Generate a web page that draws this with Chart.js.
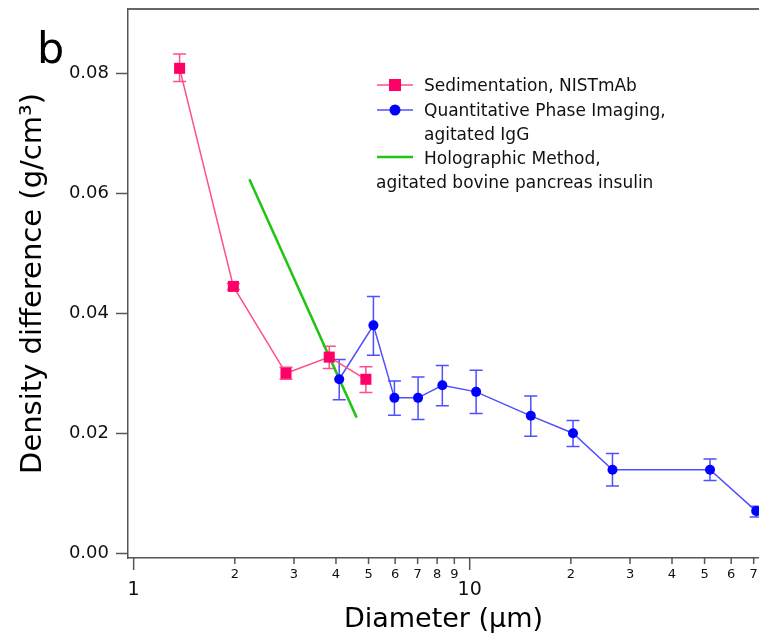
<!DOCTYPE html>
<html>
<head>
<meta charset="utf-8">
<script src="https://cdn.jsdelivr.net/npm/chart.js@4.4.1/dist/chart.umd.min.js"></script>
<style>
  body { margin: 0; background: #fff; }
  canvas { display: block; }
</style>
</head>
<body>
<canvas id="myChart" width="759" height="641"></canvas>
<script>
// Sedimentation, NISTmAb
var sedX = [1.37, 1.98, 2.84, 3.82, 4.91];
var sedY = [0.0809, 0.0445, 0.0300, 0.0327, 0.0290];
var sedLo = [0.0787, 0.0440, 0.0290, 0.0308, 0.0268];
var sedHi = [0.0833, 0.0450, 0.0310, 0.0345, 0.0311];

// Quantitative Phase Imaging, agitated IgG
var qpiX = [4.09, 5.17, 5.97, 7.02, 8.29, 10.45, 15.2, 20.3, 26.6, 51.9, 71.2];
var qpiY = [0.0290, 0.0380, 0.0259, 0.0259, 0.0280, 0.0269, 0.0229, 0.0200, 0.0139, 0.0139, 0.0070];
var qpiLo = [0.0256, 0.0330, 0.0230, 0.0223, 0.0246, 0.0233, 0.0195, 0.0178, 0.0112, 0.0121, 0.0060];
var qpiHi = [0.0323, 0.0428, 0.0287, 0.0294, 0.0313, 0.0305, 0.0262, 0.0221, 0.0166, 0.0157, 0.0078];

// Holographic Method, agitated bovine pancreas insulin
var holoX = [2.21, 4.61];
var holoY = [0.0624, 0.0226];

var xTickValues = [1, 2, 3, 4, 5, 6, 7, 8, 9, 10, 20, 30, 40, 50, 60, 70];
var xTickLabels = ['1', '2', '3', '4', '5', '6', '7', '8', '9', '10', '2', '3', '4', '5', '6', '7'];
var xMajorTicks = [1, 10];
var yTickValues = [0, 0.02, 0.04, 0.06, 0.08];
var yTickLabels = ['0.00', '0.02', '0.04', '0.06', '0.08'];

var FONT = "'DejaVu Sans', 'Liberation Sans', sans-serif";
var PINK = '#ff0066', PINK_LINE = '#ff4f8a';
var BLUE = '#0000ff', BLUE_LINE = '#4f4fff';
var GREEN = '#22c414';

function toPoints(xs, ys) {
    return xs.map((x, i) => ({ x: x, y: ys[i] }));
}

// error bars drawn through the chart scales
const errorBars = {
    id: 'errorBars',
    beforeDatasetsDraw(chart) {
        const ctx = chart.ctx;
        const xs = chart.scales.x, ys = chart.scales.y;
        chart.data.datasets.forEach(ds => {
            if (!ds.errLo) return;
            ctx.save();
            ctx.strokeStyle = ds.errColor;
            ctx.lineWidth = 1.5;
            ds.data.forEach((p, i) => {
                const px = xs.getPixelForValue(p.x);
                const lo = ys.getPixelForValue(ds.errLo[i]);
                const hi = ys.getPixelForValue(ds.errHi[i]);
                ctx.beginPath();
                ctx.moveTo(px, lo); ctx.lineTo(px, hi);
                ctx.moveTo(px - 6.5, lo); ctx.lineTo(px + 6.5, lo);
                ctx.moveTo(px - 6.5, hi); ctx.lineTo(px + 6.5, hi);
                ctx.stroke();
            });
            ctx.restore();
        });
    }
};

// frame, x tick marks, panel letter and legend
const decorations = {
    id: 'decorations',
    afterDraw(chart) {
        const ctx = chart.ctx;
        const area = chart.chartArea;
        const xs = chart.scales.x;
        ctx.save();
        ctx.strokeStyle = '#666';
        ctx.lineWidth = 2;
        ctx.beginPath();
        ctx.moveTo(area.left, area.top);
        ctx.lineTo(chart.width, area.top);
        ctx.stroke();

        ctx.strokeStyle = '#555';
        ctx.lineWidth = 1.5;
        xTickValues.forEach(v => {
            const px = xs.getPixelForValue(v);
            const len = xMajorTicks.includes(v) ? 12 : 6;
            ctx.beginPath();
            ctx.moveTo(px, area.bottom);
            ctx.lineTo(px, area.bottom + len);
            ctx.stroke();
        });

        ctx.fillStyle = '#000';
        ctx.font = '43px ' + FONT;
        ctx.textBaseline = 'alphabetic';
        ctx.textAlign = 'left';
        ctx.fillText('b', 37, 63);

        // legend
        const sx = 377, ex = 413, cx = 395, tx = 424;
        ctx.font = '17px ' + FONT;
        ctx.lineWidth = 1.5;
        ctx.strokeStyle = PINK_LINE;
        ctx.beginPath(); ctx.moveTo(sx, 85); ctx.lineTo(ex, 85); ctx.stroke();
        ctx.fillStyle = PINK;
        ctx.fillRect(cx - 6, 79, 12, 12);
        ctx.strokeStyle = BLUE_LINE;
        ctx.beginPath(); ctx.moveTo(sx, 110); ctx.lineTo(ex, 110); ctx.stroke();
        ctx.fillStyle = BLUE;
        ctx.beginPath(); ctx.arc(cx, 110, 5.5, 0, Math.PI * 2); ctx.fill();
        ctx.strokeStyle = GREEN;
        ctx.lineWidth = 2.5;
        ctx.beginPath(); ctx.moveTo(sx, 157); ctx.lineTo(ex, 157); ctx.stroke();

        ctx.fillStyle = '#111';
        ctx.fillText('Sedimentation, NISTmAb', tx, 91);
        ctx.fillText('Quantitative Phase Imaging,', tx, 116);
        ctx.fillText('agitated IgG', tx, 140);
        ctx.fillText('Holographic Method,', tx, 164);
        ctx.fillText('agitated bovine pancreas insulin', 376, 188);
        ctx.restore();
    }
};

const ctx = document.getElementById('myChart');
new Chart(ctx, {
    type: 'line',
    data: {
        datasets: [{
            label: 'Sedimentation, NISTmAb',
            data: toPoints(sedX, sedY),
            errLo: sedLo,
            errHi: sedHi,
            errColor: PINK_LINE,
            borderColor: PINK_LINE,
            borderWidth: 1.5,
            backgroundColor: PINK,
            pointStyle: 'rect',
            pointRadius: 7.8,
            pointBorderWidth: 0,
            pointBackgroundColor: PINK,
        }, {
            label: 'Quantitative Phase Imaging, agitated IgG',
            data: toPoints(qpiX, qpiY),
            errLo: qpiLo,
            errHi: qpiHi,
            errColor: BLUE_LINE,
            borderColor: BLUE_LINE,
            borderWidth: 1.5,
            backgroundColor: BLUE,
            pointStyle: 'circle',
            pointRadius: 5,
            pointBorderWidth: 0,
            pointBackgroundColor: BLUE,
        }, {
            label: 'Holographic Method, agitated bovine pancreas insulin',
            data: toPoints(holoX, holoY),
            borderColor: GREEN,
            borderWidth: 2.5,
            pointRadius: 0,
        }]
    },
    options: {
        responsive: false,
        animation: false,
        layout: { autoPadding: false, padding: { top: 9, left: 0, right: 0, bottom: 0 } },
        plugins: {
            legend: { display: false },
            tooltip: { enabled: false }
        },
        scales: {
            x: {
                type: 'logarithmic',
                min: 0.962,
                max: 72.6,
                afterBuildTicks: s => { s.ticks = xTickValues.map(v => ({ value: v })); },
                afterFit: s => {
                    s.height = 83;
                    s.paddingLeft = 0; s.paddingRight = 0;
                },
                grid: { drawOnChartArea: false, tickLength: 8, color: 'transparent' },
                border: { color: '#555', width: 1.5 },
                ticks: {
                    autoSkip: false,
                    maxRotation: 0,
                    padding: 1,
                    color: '#111',
                    font: c => xMajorTicks.includes(c.tick && c.tick.value)
                        ? { family: FONT, size: 19, lineHeight: 2.4 }
                        : { family: FONT, size: 13, lineHeight: 1.2 },
                    callback: (v, i) => xTickLabels[i]
                },
                title: {
                    display: true,
                    text: 'Diameter (μm)',
                    color: '#000',
                    font: { family: FONT, size: 27, lineHeight: 1.2 },
                    padding: { top: 0, bottom: 5 }
                }
            },
            y: {
                min: -0.00083,
                max: 0.0908,
                afterBuildTicks: s => { s.ticks = yTickValues.map(v => ({ value: v })); },
                afterFit: s => {
                    s.width = 128;
                    s.paddingTop = 0; s.paddingBottom = 0;
                },
                grid: { drawOnChartArea: false, tickLength: 12, color: '#555', tickWidth: 1.5 },
                border: { color: '#555', width: 1.5 },
                ticks: {
                    padding: 7,
                    color: '#111',
                    font: { family: FONT, size: 18 },
                    callback: (v, i) => yTickLabels[i]
                },
                title: {
                    display: true,
                    text: 'Density difference (g/cm³)',
                    color: '#000',
                    font: { family: FONT, size: 29, lineHeight: 1.2 },
                    padding: { top: 16, bottom: 0 }
                }
            }
        }
    },
    plugins: [errorBars, decorations]
});
</script>
</body>
</html>
